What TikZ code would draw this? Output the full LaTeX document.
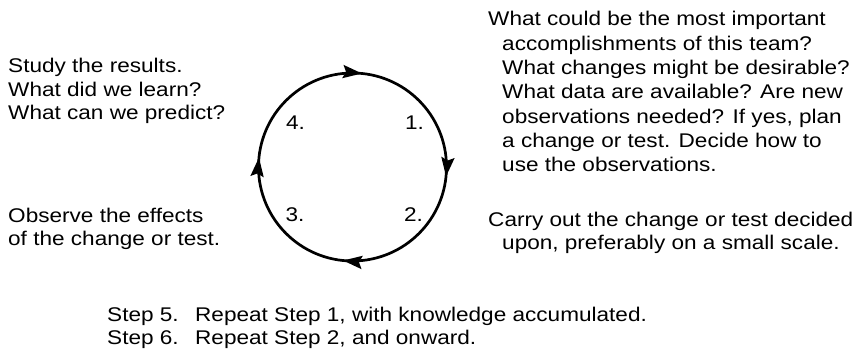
\documentclass[tikz,border=0pt]{standalone}
\usepackage{fontspec}
\setmainfont{Liberation Sans}[FakeStretch=1.14]
\usetikzlibrary{arrows.meta,decorations.markings}
\begin{document}
\begin{tikzpicture}[x=1pt,y=-1pt,
  txt/.style={inner sep=0pt, anchor=base west, align=left, font=\fontsize{19.8}{#1}\selectfont},
  num/.style={inner sep=0pt, anchor=base, font=\fontsize{19.8}{23}\selectfont},
  cyctip/.tip={Stealth[length=19pt,width=13pt,inset=3pt]},
  cycpath/.style={line width=2.7pt, postaction=decorate,
    decoration={markings,
      mark=at position 0.0161 with {\arrow{cyctip}},
      mark=at position 0.2661 with {\arrow{cyctip}},
      mark=at position 0.5161 with {\arrow{cyctip}},
      mark=at position 0.7661 with {\arrow{cyctip}}}}
]
\useasboundingbox (0,0) rectangle (865,352);
\coordinate (cyc) at (352.5,167);
\draw[cycpath] (cyc) circle[radius=94];
\node[num] (n1) at (414.5,130) {1.};
\node[num] (n2) at (413.5,222) {2.};
\node[num] (n3) at (295,222) {3.};
\node[num] (n4) at (295.5,130) {4.};
% multi-line nodes: base anchor lies on the last line's baseline
\node[txt=23.5] (study) at (8,120) {Study the results.\\What did we learn?\\What can we predict?};
\node[txt=22.5] (observe) at (8,245.5) {Observe the effects\\of the change or test.};
\node[txt=24.3] (plan) at (488,171.8) {What could be the most important\\
\hspace*{14pt}accomplishments of this team?\\
\hspace*{14pt}What changes might be desirable?\\
\hspace*{14pt}What data are available? Are new\\
\hspace*{14pt}observations needed? If yes, plan\\
\hspace*{14pt}a change or test. Decide how to\\
\hspace*{14pt}use the observations.};
\node[txt=23] (carry) at (488,250) {Carry out the change or test decided\\
\hspace*{14pt}upon, preferably on a small scale.};
\node[txt=23] (steps) at (107,345) {\makebox[88pt][l]{Step 5.}Repeat Step 1, with knowledge accumulated.\\
\makebox[88pt][l]{Step 6.}Repeat Step 2, and onward.};
\end{tikzpicture}
\end{document}
